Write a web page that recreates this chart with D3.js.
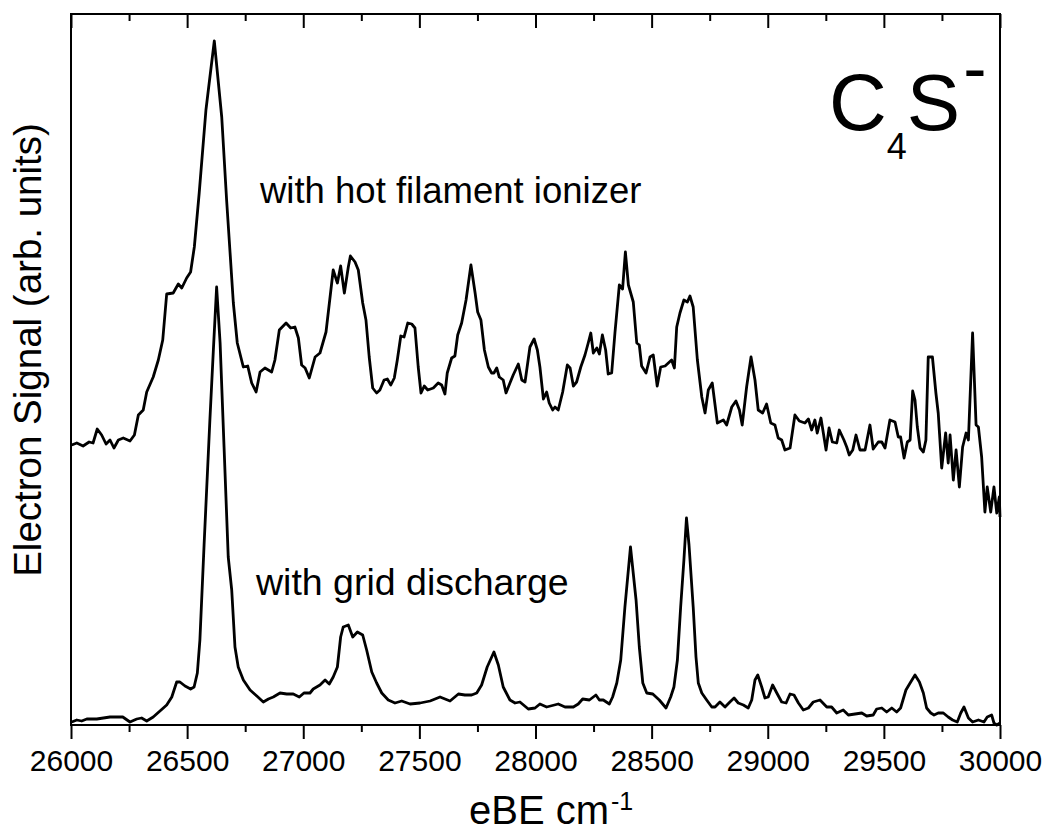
<!DOCTYPE html>
<html>
<head>
<meta charset="utf-8">
<script src="https://cdn.jsdelivr.net/npm/d3@7"></script>
<style>
  html, body { margin: 0; padding: 0; background: #fff; }
  svg { display: block; }
  text { font-family: Arial, "Liberation Sans", Helvetica, sans-serif; fill: #000; }
</style>
</head>
<body>
<svg id="chart" width="1047" height="834"></svg>
<script>
// Photoelectron spectra of C4S- : [eBE (cm^-1), signal (arb. units)]
const hotFilament = [
  [26003,280],[26025,282],[26052,279],[26078,283],[26095,282],[26113,296],[26132,290],[26151,281],
  [26168,285],[26185,277],[26204,285],[26225,287],[26254,284],[26273,290],[26290,310],[26311,315],
  [26326,333],[26354,348],[26376,365],[26395,385],[26412,431],[26440,432],[26462,441],[26477,437],
  [26498,447],[26515,453],[26531,478],[26552,532],[26581,615],[26595,642],[26617,684],[26649,608],
  [26670,525],[26685,472],[26699,422],[26716,382],[26742,358],[26761,359],[26778,342],[26797,333],
  [26814,353],[26835,357],[26864,353],[26878,365],[26897,395],[26926,402],[26946,397],[26964,398],
  [26979,387],[26993,360],[27008,357],[27026,347],[27051,368],[27072,372],[27098,393],[27129,455],
  [27147,442],[27161,459],[27177,432],[27194,458],[27203,469],[27223,463],[27237,455],[27256,422],
  [27270,405],[27284,368],[27299,337],[27316,332],[27330,335],[27348,345],[27362,346],[27377,340],
  [27392,347],[27405,365],[27420,389],[27434,388],[27450,402],[27467,401],[27481,397],[27495,358],
  [27507,332],[27521,339],[27536,335],[27560,337],[27581,342],[27596,340],[27610,331],[27620,352],
  [27639,367],[27653,369],[27665,390],[27682,402],[27701,425],[27722,460],[27740,432],[27751,413],
  [27765,405],[27780,375],[27797,358],[27811,352],[27821,352],[27833,357],[27844,348],[27861,345],
  [27873,332],[27890,342],[27904,350],[27926,361],[27941,345],[27955,343],[27976,378],[27994,386],
  [28008,375],[28019,358],[28034,326],[28048,333],[28059,322],[28074,315],[28084,318],[28098,315],
  [28117,333],[28137,360],[28149,357],[28163,339],[28177,343],[28195,358],[28213,370],[28227,382],
  [28238,392],[28249,372],[28264,377],[28275,371],[28288,390],[28302,375],[28313,351],[28328,352],
  [28342,392],[28361,440],[28375,436],[28387,473],[28400,440],[28421,423],[28436,382],[28447,380],
  [28457,359],[28476,352],[28493,368],[28507,370],[28524,339],[28539,358],[28558,359],[28572,362],
  [28586,365],[28598,357],[28608,398],[28622,412],[28639,425],[28654,423],[28665,429],[28679,418],
  [28697,365],[28716,328],[28730,312],[28744,335],[28761,342],[28783,302],[28809,305],[28823,300],
  [28845,318],[28863,324],[28878,315],[28890,300],[28909,338],[28928,368],[28945,345],[28959,315],
  [28978,312],[28995,321],[29013,302],[29031,300],[29045,287],[29060,285],[29074,275],[29096,277],
  [29117,310],[29136,304],[29160,302],[29175,306],[29189,295],[29203,305],[29213,292],[29229,307],
  [29251,275],[29264,297],[29278,283],[29297,282],[29308,295],[29328,285],[29340,278],[29351,270],
  [29366,275],[29380,290],[29397,275],[29419,275],[29440,300],[29454,276],[29476,283],[29491,283],
  [29505,277],[29526,305],[29548,303],[29562,288],[29572,288],[29587,267],[29601,283],[29613,285],
  [29624,334],[29634,325],[29644,298],[29656,277],[29670,273],[29681,285],[29691,368],[29709,368],
  [29724,332],[29734,312],[29749,257],[29766,292],[29777,262],[29785,290],[29799,245],[29811,275],
  [29825,238],[29839,278],[29854,292],[29864,285],[29882,392],[29897,300],[29907,298],[29921,268],
  [29935,213],[29945,238],[29960,213],[29974,238],[29986,212],[29997,228],[30000,208]
];

const gridDischarge = [
  [26003,3],[26025,5],[26046,4],[26068,6],[26111,6],[26168,8],[26223,8],[26254,3],[26283,6],
  [26304,7],[26326,4],[26354,8],[26383,14],[26412,20],[26434,28],[26455,43],[26469,43],[26491,39],
  [26515,36],[26530,38],[26544,52],[26555,85],[26573,180],[26598,305],[26613,375],[26627,438],
  [26642,382],[26659,278],[26677,168],[26692,135],[26706,78],[26720,58],[26742,45],[26771,35],
  [26800,29],[26828,23],[26850,26],[26871,28],[26900,32],[26929,31],[26957,31],[26983,28],
  [27003,32],[27029,32],[27043,36],[27072,40],[27094,45],[27112,41],[27129,48],[27147,58],
  [27161,88],[27172,98],[27194,100],[27213,88],[27233,93],[27256,90],[27273,75],[27295,53],
  [27316,42],[27338,32],[27366,25],[27395,22],[27424,24],[27460,21],[27503,22],[27546,24],
  [27589,28],[27632,24],[27668,31],[27696,30],[27725,30],[27747,32],[27768,40],[27792,58],
  [27821,73],[27840,60],[27861,38],[27890,25],[27912,22],[27933,23],[27969,16],[27998,17],
  [28019,21],[28048,18],[28098,21],[28127,18],[28163,18],[28184,21],[28203,26],[28232,25],
  [28260,30],[28275,25],[28292,25],[28318,21],[28332,28],[28350,42],[28367,65],[28385,118],
  [28409,178],[28433,125],[28447,78],[28462,42],[28479,32],[28505,31],[28533,25],[28562,17],
  [28582,28],[28596,38],[28611,65],[28625,118],[28639,165],[28650,207],[28661,180],[28679,118],
  [28691,68],[28701,42],[28716,32],[28737,25],[28759,18],[28773,18],[28794,23],[28816,18],
  [28837,23],[28855,27],[28873,22],[28895,20],[28916,17],[28931,25],[28945,45],[28957,50],
  [28974,38],[28988,27],[29002,28],[29021,40],[29039,32],[29060,23],[29079,22],[29096,31],
  [29113,30],[29132,22],[29153,15],[29175,17],[29196,23],[29225,25],[29254,18],[29275,18],
  [29297,12],[29325,15],[29347,10],[29376,11],[29405,12],[29426,9],[29454,10],[29469,16],
  [29491,17],[29512,13],[29534,17],[29555,13],[29572,17],[29595,35],[29613,42],[29634,50],
  [29653,43],[29670,32],[29684,17],[29702,12],[29716,10],[29734,12],[29756,12],[29777,8],
  [29796,5],[29816,3],[29831,12],[29845,18],[29864,7],[29882,3],[29907,5],[29931,3],
  [29945,8],[29964,10],[29974,2],[29986,0],[30000,2]
];

const xMajorTicks = [26000, 26500, 27000, 27500, 28000, 28500, 29000, 29500, 30000];
const xMinorTicks = [26250, 26750, 27250, 27750, 28250, 28750, 29250, 29750];
const xDomain = [26000, 30000];
const yDomain = [0, 711];

const svg = d3.select("#chart");
const plot = { left: 71, right: 1000, top: 14, bottom: 725 };

const x = d3.scaleLinear().domain(xDomain).range([plot.left, plot.right]);
const y = d3.scaleLinear().domain(yDomain).range([plot.bottom, plot.top]);

// Spectra
const line = d3.line().x(d => x(d[0])).y(d => y(d[1]));
svg.append("g")
  .selectAll("path")
  .data([hotFilament, gridDischarge])
  .join("path")
  .attr("d", line)
  .attr("fill", "none")
  .attr("stroke", "#000")
  .attr("stroke-width", 2.8)
  .attr("stroke-linejoin", "round");

// Frame
svg.append("rect")
  .attr("x", plot.left).attr("y", plot.top)
  .attr("width", plot.right - plot.left).attr("height", plot.bottom - plot.top)
  .attr("fill", "none").attr("stroke", "#000").attr("stroke-width", 2);

// Bottom axis: major ticks with labels, minor ticks, all pointing out
const bottomAxis = svg.append("g").attr("transform", `translate(0,${plot.bottom})`);
bottomAxis.call(d3.axisBottom(x).tickValues(xMajorTicks).tickFormat(d3.format("d"))
    .tickSizeInner(14).tickSizeOuter(0).tickPadding(11))
  .call(g => g.select(".domain").remove())
  .call(g => g.selectAll(".tick line").attr("stroke-width", 2))
  .call(g => g.selectAll(".tick text")
    .style("font-family", "Arial, 'Liberation Sans', sans-serif")
    .style("font-size", "30px").attr("fill", "#000"));
bottomAxis.append("g")
  .call(d3.axisBottom(x).tickValues(xMinorTicks).tickFormat("").tickSizeInner(7).tickSizeOuter(0))
  .call(g => g.select(".domain").remove())
  .call(g => g.selectAll(".tick line").attr("stroke-width", 2));

// Top axis: ticks pointing into the plot, no labels
const topAxis = svg.append("g").attr("transform", `translate(0,${plot.top})`);
topAxis.call(d3.axisTop(x).tickValues(xMajorTicks).tickFormat("").tickSizeInner(-14).tickSizeOuter(0))
  .call(g => g.select(".domain").remove())
  .call(g => g.selectAll(".tick line").attr("stroke-width", 2));
topAxis.append("g")
  .call(d3.axisTop(x).tickValues(xMinorTicks).tickFormat("").tickSizeInner(-7).tickSizeOuter(0))
  .call(g => g.select(".domain").remove())
  .call(g => g.selectAll(".tick line").attr("stroke-width", 2));

// Axis titles
const xTitle = svg.append("text")
  .attr("x", 469).attr("y", 824)
  .style("font-size", "40px");
xTitle.append("tspan").text("eBE cm");
xTitle.append("tspan").attr("dx", 2).attr("dy", -14).style("font-size", "25px").text("-1");

svg.append("text")
  .attr("transform", "translate(41,350) rotate(-90)")
  .attr("text-anchor", "middle")
  .style("font-size", "38.5px")
  .text("Electron Signal (arb. units)");

// Trace annotations
svg.append("text").attr("x", 260).attr("y", 203).style("font-size", "36.5px")
  .text("with hot filament ionizer");
svg.append("text").attr("x", 256).attr("y", 595).style("font-size", "37.5px")
  .text("with grid discharge");

// Species label C4S-
const species = svg.append("text").attr("x", 829).attr("y", 130).style("font-size", "80px");
species.append("tspan").text("C");
species.append("tspan").attr("dy", 29).style("font-size", "36px").text("4");
species.append("tspan").attr("dy", -29).text("S");
species.append("tspan").attr("dx", 3).attr("dy", -38).style("font-size", "70px").text("-");
</script>
</body>
</html>
